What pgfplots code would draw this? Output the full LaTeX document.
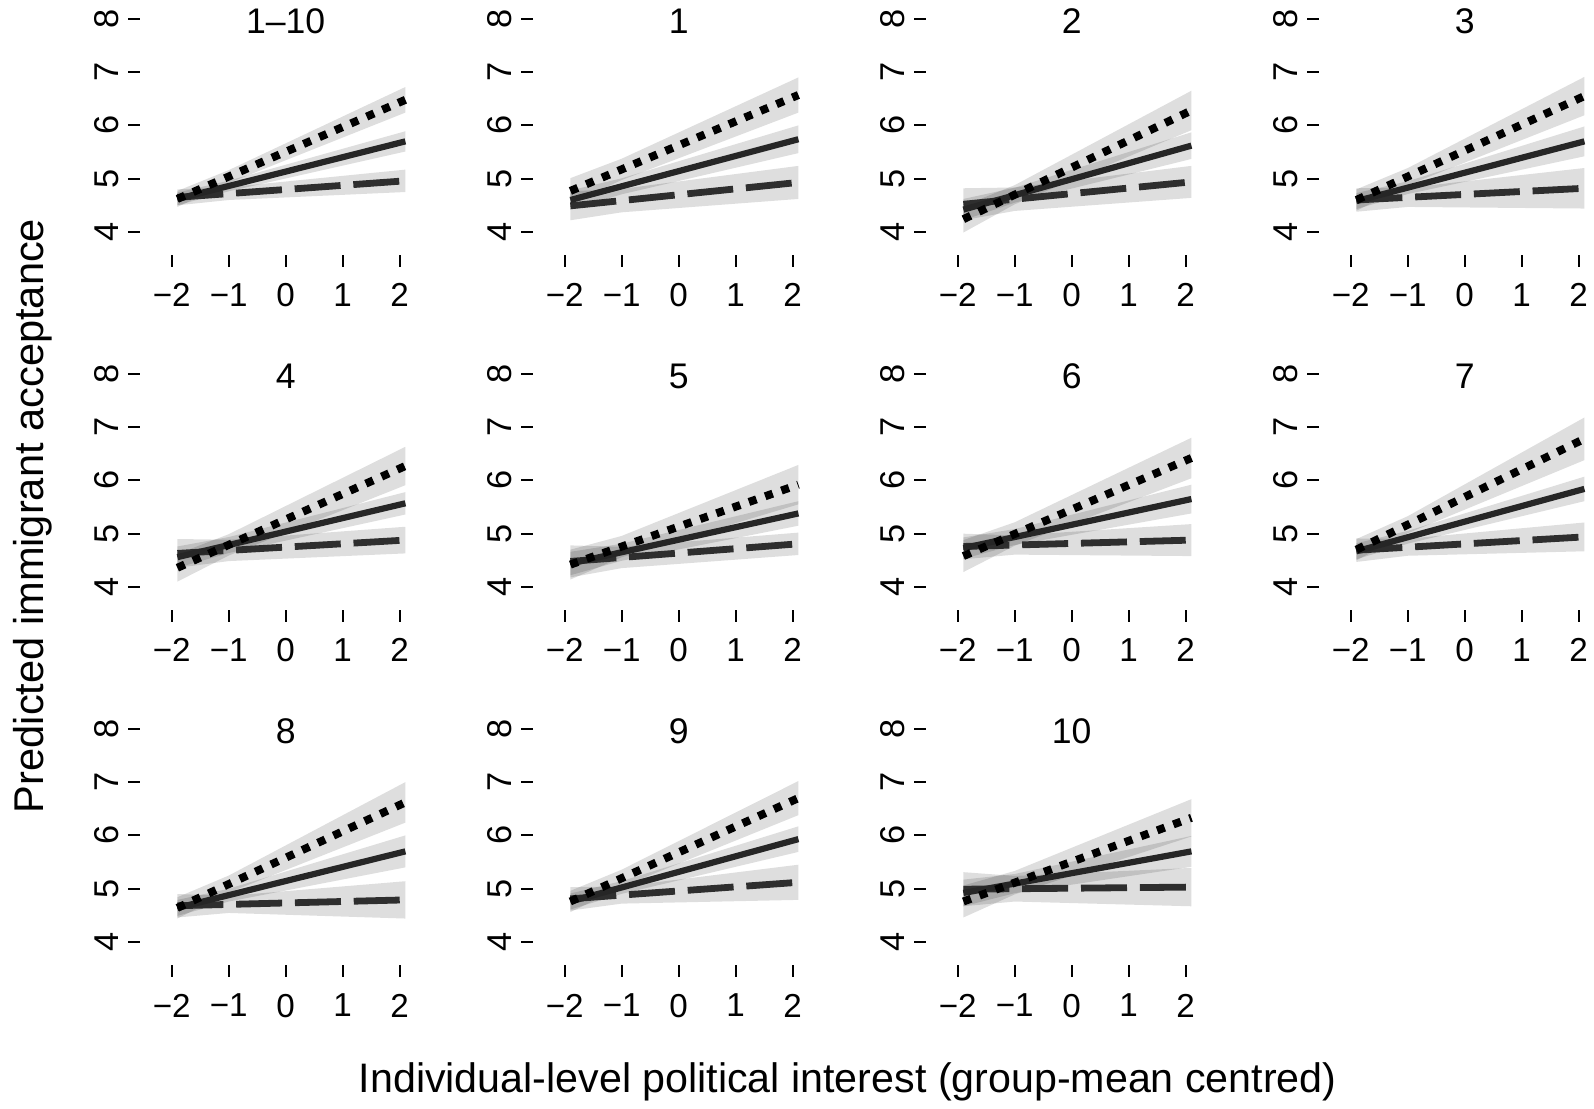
\documentclass[border=0pt]{standalone}
\usepackage{fontspec}
\setmainfont{Liberation Sans}
\usepackage{pgfplots}
\usepackage{pgfplotstable}
\pgfplotsset{compat=1.18}

% line values: x, dotted, solid, dashed
% band tables: upper edge left->right, then lower edge right->left
\pgfplotstableread{
x dot sol das
-1.9 4.62 4.62 4.65
-1 5.04 4.863 4.72
2.1 6.48 5.70 4.96
}\tA
\pgfplotstableread{
x dot sol das
-1.9 4.77 4.74 4.80
-1 5.16 4.963 4.84
2.1 6.72 5.89 5.17
2.1 6.24 5.51 4.75
-1 4.92 4.763 4.60
-1.9 4.47 4.50 4.50
}\bA
\pgfplotstableread{
x dot sol das
-1.9 4.77 4.60 4.49
-1 5.175 4.857 4.589
2.1 6.57 5.74 4.93
}\tB
\pgfplotstableread{
x dot sol das
-1.9 5.01 4.78 4.76
-1 5.375 5.007 4.809
2.1 6.90 6.00 5.24
2.1 6.24 5.48 4.62
-1 4.975 4.707 4.369
-1.9 4.53 4.42 4.22
}\bB
\pgfplotstableread{
x dot sol das
-1.9 4.24 4.42 4.52
-1 4.699 4.69 4.615
2.1 6.28 5.62 4.94
}\tC
\pgfplotstableread{
x dot sol das
-1.9 4.49 4.62 4.82
-1 4.879 4.83 4.835
2.1 6.65 5.87 5.24
2.1 5.91 5.37 4.64
-1 4.519 4.55 4.395
-1.9 3.99 4.22 4.22
}\bC
\pgfplotstableread{
x dot sol das
-1.9 4.60 4.58 4.60
-1 5.039 4.832 4.65
2.1 6.55 5.70 4.82
}\tD
\pgfplotstableread{
x dot sol das
-1.9 4.80 4.73 4.82
-1 5.199 4.952 4.83
2.1 6.91 5.98 5.20
2.1 6.19 5.42 4.44
-1 4.879 4.712 4.47
-1.9 4.40 4.43 4.38
}\bD
\pgfplotstableread{
x dot sol das
-1.9 4.36 4.56 4.63
-1 4.79 4.787 4.686
2.1 6.27 5.57 4.88
}\tE
\pgfplotstableread{
x dot sol das
-1.9 4.62 4.76 4.90
-1 4.99 4.937 4.886
2.1 6.63 5.78 5.13
2.1 5.91 5.36 4.63
-1 4.59 4.637 4.486
-1.9 4.10 4.36 4.36
}\bE
\pgfplotstableread{
x dot sol das
-1.9 4.42 4.44 4.48
-1 4.758 4.652 4.554
2.1 5.92 5.38 4.81
}\tF
\pgfplotstableread{
x dot sol das
-1.9 4.70 4.66 4.78
-1 4.958 4.812 4.754
2.1 6.29 5.61 5.02
2.1 5.55 5.15 4.60
-1 4.558 4.492 4.354
-1.9 4.14 4.22 4.18
}\bF
\pgfplotstableread{
x dot sol das
-1.9 4.58 4.73 4.76
-1 4.994 4.937 4.787
2.1 6.42 5.65 4.88
}\tG
\pgfplotstableread{
x dot sol das
-1.9 4.88 4.93 5.00
-1 5.214 5.087 4.967
2.1 6.80 5.92 5.18
2.1 6.04 5.38 4.58
-1 4.774 4.787 4.607
-1.9 4.28 4.53 4.52
}\bG
\pgfplotstableread{
x dot sol das
-1.9 4.70 4.67 4.69
-1 5.168 4.933 4.746
2.1 6.78 5.84 4.94
}\tH
\pgfplotstableread{
x dot sol das
-1.9 4.90 4.82 4.91
-1 5.328 5.053 4.906
2.1 7.18 6.07 5.21
2.1 6.38 5.61 4.67
-1 5.008 4.813 4.586
-1.9 4.50 4.52 4.47
}\bH
\pgfplotstableread{
x dot sol das
-1.9 4.64 4.64 4.68
-1 5.086 4.879 4.705
2.1 6.62 5.70 4.79
}\tI
\pgfplotstableread{
x dot sol das
-1.9 4.84 4.79 4.90
-1 5.246 4.999 4.865
2.1 7.00 6.00 5.14
2.1 6.24 5.40 4.44
-1 4.926 4.759 4.545
-1.9 4.44 4.49 4.46
}\bI
\pgfplotstableread{
x dot sol das
-1.9 4.76 4.76 4.81
-1 5.197 5.023 4.88
2.1 6.70 5.93 5.12
}\tJ
\pgfplotstableread{
x dot sol das
-1.9 4.96 4.91 5.03
-1 5.357 5.143 5.04
2.1 7.02 6.17 5.45
2.1 6.38 5.69 4.79
-1 5.037 4.903 4.72
-1.9 4.56 4.61 4.59
}\bJ
\pgfplotstableread{
x dot sol das
-1.9 4.76 4.92 4.99
-1 5.113 5.096 4.999
2.1 6.33 5.70 5.03
}\tK
\pgfplotstableread{
x dot sol das
-1.9 5.06 5.17 5.31
-1 5.333 5.276 5.239
2.1 6.68 5.99 5.39
2.1 5.98 5.41 4.67
-1 4.893 4.916 4.759
-1.9 4.46 4.67 4.67
}\bK

\pgfplotsset{
  panel/.style={
    anchor=south west,
    x=14.25pt, y=13.325pt,
    xmin=-2.556, xmax=2.2, ymin=3.568, ymax=8.1,
    axis lines*=left,
    axis line style={draw=none},
    clip=false,
    xtick={-2,-1,0,1,2},
    xticklabels={−2,−1,0,1,2},
    ytick={4,5,6,7,8},
    yticklabels={4,5,6,7,8},
    tick align=outside,
    major tick length=2.9pt,
    tick style={line width=0.5pt, black},
    xticklabel style={font=\fontsize{8.3}{10}\selectfont, anchor=north, inner sep=0pt},
    yticklabel style={font=\fontsize{8.6}{10}\selectfont, rotate=90, anchor=south, inner sep=0pt},
    xticklabel shift=4.1pt,
    yticklabel shift=2.2pt,
  },
  band/.style={draw=none, fill=black, fill opacity=0.13, mark=none},
  dotl/.style={black, line width=2.0pt, dash pattern=on 2.0pt off 2.3pt, line cap=butt, mark=none},
  soll/.style={black!85, line width=1.55pt, mark=none},
  dasl/.style={black!82, line width=1.7pt, dash pattern=on 11.5pt off 3.2pt, line cap=butt, mark=none},
}

\newcommand{\panel}[5]{%
\begin{axis}[panel, at={(#1,#2)}]
  \addplot[band] table[x=x, y=dot] {#5} --cycle;
  \addplot[band] table[x=x, y=sol] {#5} --cycle;
  \addplot[band] table[x=x, y=das] {#5} --cycle;
  \addplot[dasl] table[x=x, y=das] {#4};
  \addplot[soll] table[x=x, y=sol] {#4};
  \addplot[dotl] table[x=x, y=dot] {#4};
  \node[font=\fontsize{8.9}{10}\selectfont, anchor=center] at (axis cs:0,7.95) {#3};
\end{axis}}

\begin{document}
\begin{tikzpicture}
\path[use as bounding box] (0,0) rectangle (398.5pt,277pt);
\panel{35pt}{213.25pt}{1–10}{\tA}{\bA}
\panel{133.25pt}{213.25pt}{1}{\tB}{\bB}
\panel{231.5pt}{213.25pt}{2}{\tC}{\bC}
\panel{329.75pt}{213.25pt}{3}{\tD}{\bD}
\panel{35pt}{124.5pt}{4}{\tE}{\bE}
\panel{133.25pt}{124.5pt}{5}{\tF}{\bF}
\panel{231.5pt}{124.5pt}{6}{\tG}{\bG}
\panel{329.75pt}{124.5pt}{7}{\tH}{\bH}
\panel{35pt}{35.75pt}{8}{\tI}{\bI}
\panel{133.25pt}{35.75pt}{9}{\tJ}{\bJ}
\panel{231.5pt}{35.75pt}{10}{\tK}{\bK}
\node[font=\fontsize{10.4}{12}\selectfont, rotate=90, anchor=base east, inner sep=0pt] at (10.75pt,222.5pt) {Predicted immigrant acceptance};
\node[font=\fontsize{10.3}{12}\selectfont, anchor=base west, inner sep=0pt] at (89.5pt,4pt) {Individual-level political interest (group-mean centred)};
\end{tikzpicture}
\end{document}
